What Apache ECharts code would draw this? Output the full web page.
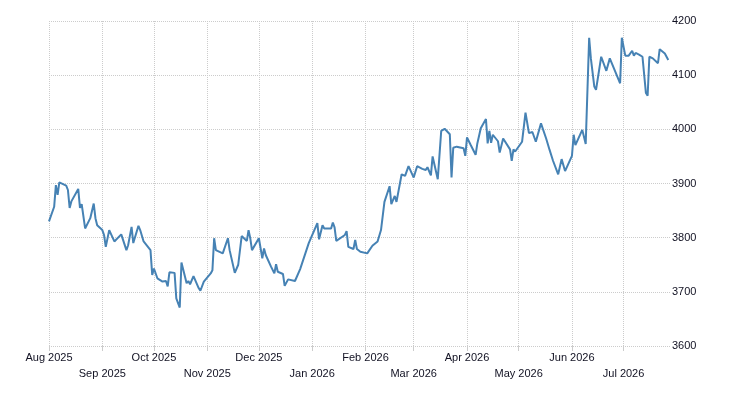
<!DOCTYPE html>
<html>
<head>
<meta charset="utf-8">
<script src="https://cdn.jsdelivr.net/npm/echarts@6/dist/echarts.min.js"></script>
<style>
  html, body { margin: 0; padding: 0; background: #fff; }
  #chart { width: 730px; height: 400px; }
</style>
</head>
<body>
<div id="chart"></div>
<script type="text/javascript">

    // one point per trading day-ish
    var dates = [
        '2025-08-01','2025-08-04','2025-08-05','2025-08-06','2025-08-07','2025-08-11','2025-08-12','2025-08-13','2025-08-14','2025-08-18',
        '2025-08-19','2025-08-20','2025-08-22','2025-08-25','2025-08-27','2025-08-28','2025-08-29','2025-09-01','2025-09-02','2025-09-03',
        '2025-09-05','2025-09-08','2025-09-12','2025-09-15','2025-09-16','2025-09-18','2025-09-19','2025-09-22','2025-09-23','2025-09-25',
        '2025-09-29','2025-09-30','2025-10-01','2025-10-03','2025-10-06','2025-10-08','2025-10-09','2025-10-10','2025-10-13','2025-10-14',
        '2025-10-16','2025-10-17','2025-10-20','2025-10-21','2025-10-22','2025-10-24','2025-10-27','2025-10-28','2025-10-30','2025-11-03',
        '2025-11-04','2025-11-05','2025-11-06','2025-11-10','2025-11-13','2025-11-14','2025-11-17','2025-11-19','2025-11-21','2025-11-24',
        '2025-11-25','2025-11-26','2025-11-27','2025-12-01','2025-12-03','2025-12-04','2025-12-05','2025-12-08','2025-12-10','2025-12-11',
        '2025-12-12','2025-12-15','2025-12-16','2025-12-18','2025-12-22','2025-12-23','2025-12-25','2025-12-30','2026-01-04','2026-01-05',
        '2026-01-07','2026-01-08','2026-01-12','2026-01-13','2026-01-14','2026-01-15','2026-01-20','2026-01-21','2026-01-22','2026-01-25',
        '2026-01-26','2026-01-27','2026-01-28','2026-01-29','2026-02-02','2026-02-05','2026-02-08','2026-02-10','2026-02-12','2026-02-15',
        '2026-02-16','2026-02-18','2026-02-19','2026-02-22','2026-02-23','2026-02-24','2026-02-26','2026-03-01','2026-03-03','2026-03-04',
        '2026-03-06','2026-03-08','2026-03-09','2026-03-11','2026-03-12','2026-03-15','2026-03-17','2026-03-19','2026-03-22','2026-03-23',
        '2026-03-24','2026-03-26','2026-03-30','2026-03-31','2026-04-01','2026-04-03','2026-04-06','2026-04-07','2026-04-08','2026-04-09',
        '2026-04-12','2026-04-13','2026-04-14','2026-04-15','2026-04-16','2026-04-19','2026-04-20','2026-04-21','2026-04-22','2026-04-23',
        '2026-04-26','2026-04-27','2026-04-28','2026-04-29','2026-05-03','2026-05-05','2026-05-07','2026-05-09','2026-05-11','2026-05-14',
        '2026-05-17','2026-05-19','2026-05-20','2026-05-21','2026-05-24','2026-05-25','2026-05-26','2026-05-28','2026-06-01','2026-06-02',
        '2026-06-03','2026-06-07','2026-06-08','2026-06-09','2026-06-11','2026-06-12','2026-06-14','2026-06-15','2026-06-16','2026-06-18',
        '2026-06-21','2026-06-23','2026-06-24','2026-06-29','2026-06-30','2026-07-02','2026-07-04','2026-07-06','2026-07-07','2026-07-08',
        '2026-07-10','2026-07-12','2026-07-14','2026-07-15','2026-07-16','2026-07-18','2026-07-21','2026-07-22','2026-07-25','2026-07-27'
    ];
    var values = [
        3830,3857,3897,3879,3902,3896,3888,3855,3867,3890,
        3855,3862,3817,3836,3863,3836,3823,3814,3805,3783,
        3814,3793,3806,3777,3786,3820,3790,3822,3814,3793,
        3777,3731,3743,3725,3719,3720,3710,3736,3735,3688,
        3671,3754,3716,3720,3714,3729,3707,3702,3719,3734,
        3740,3799,3777,3771,3799,3777,3735,3750,3803,3794,
        3814,3799,3777,3799,3762,3780,3768,3747,3734,3751,
        3737,3733,3711,3723,3720,3722,3742,3790,3827,3797,
        3823,3817,3817,3828,3819,3794,3805,3812,3783,3779,
        3796,3779,3782,3774,3771,3785,3793,3814,3866,3895,
        3862,3877,3866,3917,3919,3914,3932,3911,3932,3934,
        3927,3925,3930,3915,3950,3908,3997,4001,3991,3911,
        3966,3968,3965,3951,3985,3972,3953,3974,3974,4002,
        4019,3974,3997,3975,3990,3978,3957,3957,3983,3981,
        3963,3942,3963,3959,3977,4031,3993,3995,3977,4011,
        3983,3962,3964,3942,3917,3917,3945,3923,3951,3990,
        3971,3999,3997,3973,4169,4131,4079,4073,4076,4134,
        4108,4131,4133,4085,4169,4136,4136,4145,4136,4141,
        4138,4134,4067,4062,4134,4131,4122,4148,4140,4128
    ];

    var monthStarts = ['2025-08-01','2025-09-01','2025-10-01','2025-11-01','2025-12-01','2026-01-01',
                       '2026-02-01','2026-03-01','2026-04-01','2026-05-01','2026-06-01','2026-07-01'];
    var monthLabels = ['Aug 2025','Sep 2025','Oct 2025','Nov 2025','Dec 2025','Jan 2026',
                       'Feb 2026','Mar 2026','Apr 2026','May 2026','Jun 2026','Jul 2026'];

    function toTime(s) {
        var p = s.split('-');
        return new Date(+p[0], +p[1] - 1, +p[2]).getTime();
    }

    var tickTimes = monthStarts.map(toTime);
    var seriesData = dates.map(function (d, i) { return [toTime(d), values[i]]; });

    var gridColor = '#cccccc';

    var option = {
        animation: false,
        textStyle: {fontFamily: 'Liberation Sans, Arial, sans-serif'},
        grid: {left: 49, right: 60, top: 21, bottom: 54, containLabel: false},
        xAxis: {
            // plain value axis holding timestamps, ticks placed at month starts
            type: 'value',
            min: toTime('2025-08-01'),
            max: toTime('2026-07-28'),
            axisLine: {show: false},
            axisTick: {
                show: true,
                customValues: tickTimes,
                length: 5,
                lineStyle: {color: gridColor}
            },
            axisLabel: {
                customValues: tickTimes,
                margin: 4,
                lineHeight: 16,
                fontSize: 11,
                color: '#111122',
                formatter: function (v) {
                    var i = tickTimes.indexOf(v);
                    if (i < 0) return '';
                    return i % 2 ? '\n' + monthLabels[i] : monthLabels[i];
                }
            },
            splitLine: {
                show: true,
                lineStyle: {type: 'dotted', color: gridColor, width: 1}
            }
        },
        yAxis: {
            type: 'value',
            position: 'right',
            min: 3600,
            max: 4200,
            interval: 100,
            axisLine: {show: false},
            axisTick: {show: false},
            axisLabel: {
                margin: 2,
                fontSize: 11,
                color: '#111122',
                formatter: function (v) { return String(v); }
            },
            splitLine: {
                show: true,
                lineStyle: {type: 'dotted', color: gridColor, width: 1}
            }
        },
        series: [{
            type: 'line',
            data: seriesData,
            showSymbol: false,
            lineStyle: {color: '#4682b4', width: 2},
            itemStyle: {color: '#4682b4'}
        }]
    };

    var myChart = echarts.init(document.getElementById('chart'));
    myChart.setOption(option);
</script>
</body>
</html>
